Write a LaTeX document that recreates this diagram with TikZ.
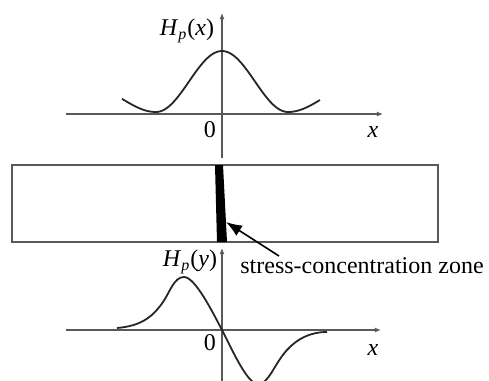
\documentclass[tikz,border=0pt]{standalone}
\usepackage{fontspec}
\setmainfont{Liberation Serif}
\usetikzlibrary{arrows.meta, positioning}
\tikzset{
  axis/.style={draw=black!65, line width=0.7pt, -{Latex[length=3pt,width=2.5pt]}},
  curve/.style={black!85, line width=0.9pt},
  lbl/.style={font=\fontsize{12}{14}\selectfont, inner sep=0pt},
}
\newcommand{\hplabel}[1]{\textit{H}\textsubscript{\textit{p}}(\textit{#1})}

\begin{document}
\begin{tikzpicture}[x=0.5pt, y=-0.5pt]
  \useasboundingbox (0,0) rectangle (489,381);
  % Upper plot
  \draw[axis] (66,114) -- (383,114);
  \draw[axis] (222,158) -- (222,13);
  \draw[curve, samples=20, domain=122:156] plot (\x, {112 - 12.6*(1+cos((\x-222)/66*180))});
  \draw[curve, samples=60, domain=156:288] plot (\x, {112 - 30.5*(1+cos((\x-222)/66*180))});
  \draw[curve, samples=20, domain=288:320] plot (\x, {112 - 12.6*(1+cos((\x-222)/66*180))});
  \node[lbl] (hx) at (187,31) {\hplabel{x}};
  \node[lbl] (zx) at (210,130) {0};
  \node[lbl] (xx) at (373,132) {\textit{x}};
  % Bar with zone
  \draw[black!65, line width=0.7pt] (12,165) rectangle (438,242);
  \fill (215,165) -- (223,165) -- (227,242) -- (217,242) -- cycle;
  \coordinate (tip) at (226,222);
  \coordinate (tail) at (279,256);
  \draw[line width=0.8pt, -{Latex[length=8pt,width=6pt]}] (tail) -- (tip);
  \node[lbl, anchor=west] (zone) at (240,266) {stress-concentration zone};
  % Lower plot
  \draw[axis] (66,330) -- (381,330);
  \draw[axis] (222,381) -- (222,248);
  \begin{scope}
    \clip (0,0) rectangle (489,381);
    \draw[curve] (117,328) .. controls (140,326) and (152,318) .. (163,302)
      .. controls (170,292) and (174,277) .. (184,277)
      .. controls (195,277) and (212,311) .. (222,330)
      .. controls (232,349) and (247,384) .. (258,384)
      .. controls (269,384) and (274,364) .. (287,350)
      .. controls (297,339) and (310,332) .. (327,332);
  \end{scope}
  \node[lbl] (hy) at (190,262) {\hplabel{y}};
  \node[lbl] (zy) at (210,343) {0};
  \node[lbl] (xy) at (373,350) {\textit{x}};
\end{tikzpicture}
\end{document}
